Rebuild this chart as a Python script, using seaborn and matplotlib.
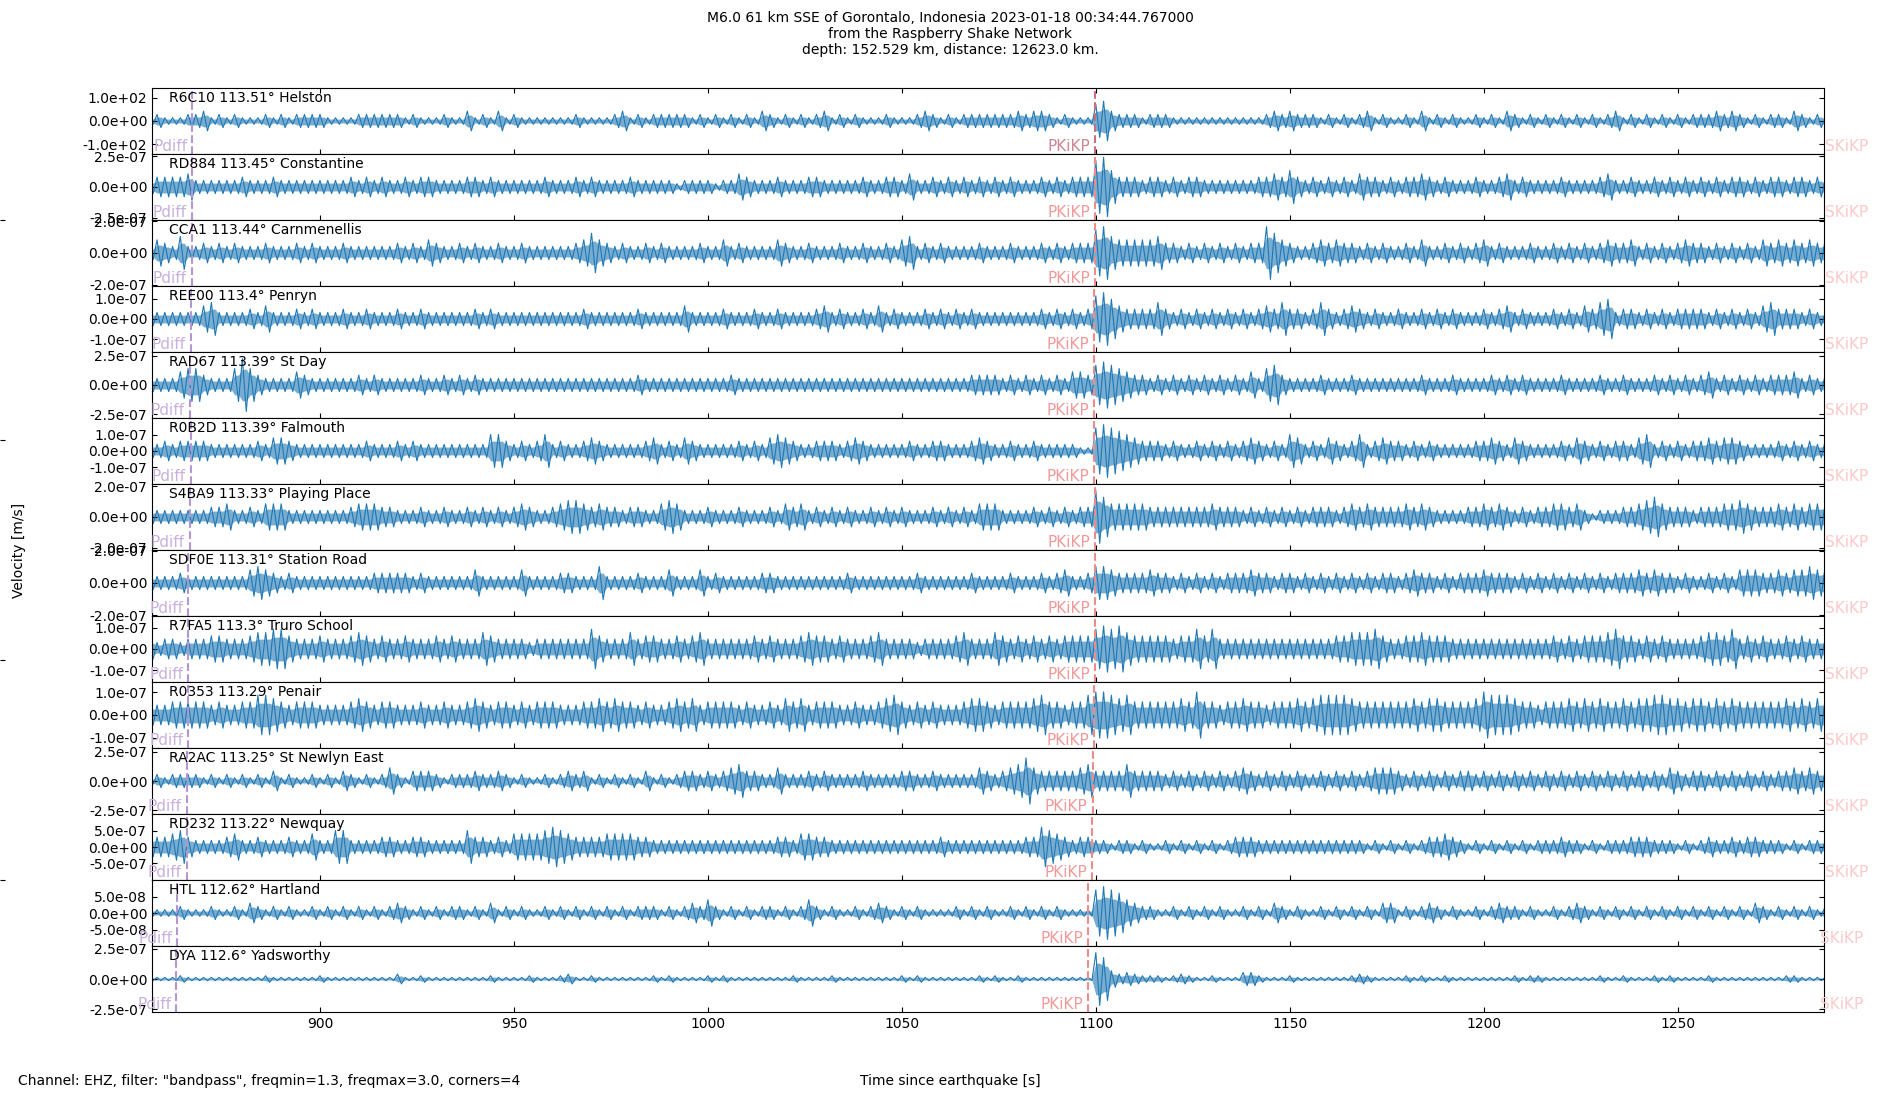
import numpy as np
import matplotlib
matplotlib.use("Agg")
import matplotlib.pyplot as plt
from matplotlib.ticker import FormatStrFormatter
import seaborn as sns

# %% Data
stations = ["R6C10 113.51° Helston", "RD884 113.45° Constantine", "CCA1 113.44° Carnmenellis",
            "REE00 113.4° Penryn", "RAD67 113.39° St Day", "R0B2D 113.39° Falmouth",
            "S4BA9 113.33° Playing Place", "SDF0E 113.31° Station Road", "R7FA5 113.3° Truro School",
            "R0353 113.29° Penair", "RA2AC 113.25° St Newlyn East", "RD232 113.22° Newquay",
            "HTL 112.62° Hartland", "DYA 112.6° Yadsworthy"]

# y half-range of each panel and its tick value
ylims = [141, 2.69e-7, 2.08e-7, 1.62e-7, 2.84e-7, 2.06e-7, 2.15e-7, 2.04e-7,
         1.57e-7, 1.46e-7, 2.84e-7, 1.02e-6, 1.0e-7, 2.72e-7]
yticks = [100, 2.5e-7, 2.0e-7, 1.0e-7, 2.5e-7, 1.0e-7, 2.0e-7, 2.0e-7,
          1.0e-7, 1.0e-7, 2.5e-7, 5.0e-7, 5.0e-8, 2.5e-7]

# phase arrival times [s]
pdiff = [867.1, 866.9, 866.9, 866.7, 866.4, 866.7, 866.4, 866.0, 866.0, 866.0, 865.7, 865.7, 863.2, 862.9]
pkikp = [1099.8, 1099.9, 1099.9, 1099.5, 1099.5, 1099.5, 1099.8, 1099.8, 1099.8, 1099.5, 1099.2, 1099.0, 1098.0, 1098.0]
skikp = [1300.5] * 12 + [1299.0, 1299.0]

# peak amplitude per 2 s window, as base-36 digits times amp_step
win_start, win_len = 856, 2
amp_step = [14.1, 2.69e-8, 2.08e-8, 1.62e-8, 2.84e-8, 2.06e-8, 2.15e-8, 2.04e-8,
            1.57e-8, 1.46e-8, 2.84e-8, 1.02e-7, 1.0e-8, 1.36e-8]

tr_r6c10 = ["1211122312", "1211121212", "2221111222", "2221211121", "1312131211", "1111121111",
            "2312122222", "1212121213", "2121212312", "1211121112", "3212122222", "2232332121",
            "1156322212", "2211111111", "1111232322", "2121212312", "1121312121", "1212132121",
            "2121212123", "1212121212", "2232321212", "2132121"]
tr_rd884 = ["2333342222", "2232223222", "2222223232", "3223233222", "2332322222", "2322232322",
            "2232222212", "2221224322", "2322233222", "2232233242", "2323232323", "2322232323",
            "3389533323", "3232332222", "2223343532", "3232324332", "3233432322", "2322342322",
            "2232222342", "2322323232", "3232332323", "3233232"]
tr_cca1 = ["2432522323", "2322232223", "2322232222", "2232324322", "3232232232", "2222234643",
           "2322323222", "2322423222", "2432232223", "2232232452", "3232222322", "2322232323",
           "3378544444", "5332323232", "3233864322", "3434332323", "2232422323", "2342322232",
           "2323232343", "3423232343", "3232323243", "4343434"]
tr_ree00 = ["2222222452", "2223242223", "2322232232", "2232232222", "2232322222", "2222223222",
            "2223222224", "2222322232", "2322223423", "2232423222", "3232323222", "2222232323",
            "2378643333", "5323232323", "2323435332", "3532343232", "2322323232", "2232342322",
            "2323243562", "3323232333", "3232323245", "3332322"]
tr_rad67 = ["2222455322", "2585322224", "3222222323", "2222232232", "3232222222", "2222222222",
            "2223222222", "2222232222", "2222222222", "2222222222", "2222223333", "2323232324",
            "4367654332", "3232323232", "3242563222", "2322232222", "2222322232", "2223232322",
            "2232222322", "3222323232", "3423232323", "3342323"]
tr_r0b2d = ["2232333322", "2222324432", "2222222232", "2232322222", "2222553232", "3523223432",
            "2222342324", "3222223232", "4543223332", "3432222232", "2332223432", "2322322222",
            "1178765433", "3232232323", "2343232542", "3243235234", "3323232222", "2334324322",
            "2232432323", "3245232323", "3434432222", "3232323"]
tr_s4ba9 = ["2222222233", "4223244422", "2222223444", "3322232232", "2323232343", "2234554343",
            "3233224542", "2232223222", "3243423232", "3223232322", "2323232444", "2222323232",
            "3386444443", "3333333433", "3232323232", "3332343433", "3343432222", "3343432323",
            "3443421222", "3345643332", "3334454333", "4343444"]
tr_sdf0e = ["2222322222", "2224543232", "2222222223", "3333232222", "2242222242", "2223322252",
            "2223222422", "2423222223", "3222222222", "3222222223", "2222223222", "2322232342",
            "2355433334", "3323232323", "3343323323", "2323232323", "3234332323", "3343332323",
            "2323232323", "3343433232", "2323244433", "4344545"]
tr_r7fa5 = ["3233233344", "3334556643", "3343334543", "4334333434", "3335433332", "3333333643",
            "3353443343", "4533333343", "4333454434", "3334533332", "3333453335", "4343434344",
            "4467675444", "4434464633", "3333333333", "3334455564", "3344544433", "3333333333",
            "3434344456", "4434343333", "4554634343", "3434333"]
tr_r0353 = ["3334444434", "3344665434", "4433334543", "4433343343", "3454344343", "4443334454",
            "5443433454", "5344443433", "4354534443", "3433456434", "3433345543", "4444564434",
            "4677656444", "4445474434", "4544344454", "5666654444", "4445455444", "4576665443",
            "4445454544", "5455665545", "5454544444", "4545455"]
tr_ra2ac = ["1212222121", "2121213121", "1212132121", "2421333212", "2232232121", "1212323121",
            "2121312123", "3232345332", "2422232322", "2232222332", "2322222432", "3457433333",
            "4533335333", "3232323232", "3432323232", "2323232344", "4323232323", "3232323232",
            "3232323232", "3232324323", "3232323232", "3343433"]
tr_rd232 = ["3334532222", "3422322232", "2422552222", "3322332222", "2533232444", "4565433334",
            "4443322222", "2222222222", "2332443322", "2222222222", "2232222222", "2223365432",
            "3322122121", "1212121212", "3332222222", "2222222121", "2121233432", "1212121212",
            "2232212122", "2333222121", "2322323322", "2121222"]
tr_htl = ["1111211121", "1213212121", "1212121212", "1232121212", "2121312121", "1212121212",
          "1212221212", "3242121212", "2121242121", "1212321212", "1111212121", "1212121211",
          "1178764322", "1121212121", "1212132121", "1212121213", "3121232121", "1212322121",
          "1212321212", "1212121212", "1212121321", "2121212"]
tr_dya = ["1111211111", "1111121111", "1121111111", "1131121111", "1111211112", "1112311211",
          "1111121211", "1121211111", "1112111121", "1111111212", "1111111212", "1121111111",
          "11gd534322", "2123211211", "1442111211", "1111123211", "1121211211", "1111112122",
          "1111111211", "2111212111", "1211111111", "1221111"]

traces = [tr_r6c10, tr_rd884, tr_cca1, tr_ree00, tr_rad67, tr_r0b2d, tr_s4ba9, tr_sdf0e,
          tr_r7fa5, tr_r0353, tr_ra2ac, tr_rd232, tr_htl, tr_dya]

title = ("M6.0 61 km SSE of Gorontalo, Indonesia 2023-01-18 00:34:44.767000\n"
         "from the Raspberry Shake Network\n"
         "depth: 152.529 km, distance: 12623.0 km.")

# %% Plot
fig, axes = plt.subplots(len(traces), 1, figsize=(19, 11), dpi=100, sharex=True)
fig.subplots_adjust(left=0.08, right=0.96, top=0.92, bottom=0.08, hspace=0)

# invisible full-figure axes (leaves its small tick marks at the left edge)
bg = fig.add_axes([0, 0, 1, 1], frameon=False, zorder=-1)
bg.set_xticks([])
bg.set_yticks([0.2, 0.4, 0.6, 0.8])
bg.set_yticklabels([])
bg.tick_params(direction='in')

pk_line = ['#c8707f'] + ['#ee8c8c'] * 13
pk_text = ['#cf8494'] + ['#f29a9a'] * 13
blue = '#1f77b4'

for i, ax in enumerate(axes):
    amp = np.array([int(c, 36) for c in "".join(traces[i])]) * amp_step[i]
    t = win_start + win_len * np.arange(len(amp))
    x = np.column_stack([t, t + win_len / 2]).ravel()
    y = np.column_stack([amp, -amp]).ravel()
    # dense core of the trace, the zigzag carries the window peaks
    ax.fill_between(x, -np.abs(y) * 0.6, np.abs(y) * 0.6, color=blue, alpha=0.6, lw=0)
    sns.lineplot(x=x, y=y, ax=ax, color=blue, lw=0.8, sort=False, estimator=None)

    ax.axvline(pdiff[i], color='#b596d2', ls='--', lw=1.5)
    ax.axvline(pkikp[i], color=pk_line[i], ls='--', lw=1.5)

    for name, tp, col in [("Pdiff", pdiff[i], '#c8b1dd'), ("PKiKP", pkikp[i], pk_text[i]),
                          ("SKiKP", skikp[i], '#fcc9c9')]:
        ax.annotate(name, xy=(tp, 0), xycoords=('data', 'axes fraction'),
                    xytext=(-5, 0), textcoords='offset pixels', ha='right', va='bottom',
                    color=col, fontsize=11, annotation_clip=False)

    ax.text(0.01, 0.95, stations[i], transform=ax.transAxes, va='top', ha='left', fontsize=10)

    ax.set_ylim(-ylims[i], ylims[i])
    ax.set_yticks([-yticks[i], 0, yticks[i]])
    ax.yaxis.set_major_formatter(FormatStrFormatter('%.1e'))
    ax.tick_params(direction='in', right=True, labelsize=10)
    ax.set_xlabel("")
    ax.set_ylabel("")

axes[0].tick_params(top=True)
axes[-1].set_xlim(856.7, 1287.7)
axes[-1].set_xticks(np.arange(900, 1251, 50))

fig.suptitle(title, y=0.99, va='top', fontsize=10)
fig.text(0.01, 0.5, "Velocity [m/s]", rotation=90, va='center', ha='center', fontsize=10)
fig.text(0.0095, 0.017, 'Channel: EHZ, filter: "bandpass", freqmin=1.3, freqmax=3.0, corners=4',
         ha='left', va='center', fontsize=10)
fig.text(0.5, 0.017, "Time since earthquake [s]", ha='center', va='center', fontsize=10)

plt.savefig("out.png", dpi=100)
